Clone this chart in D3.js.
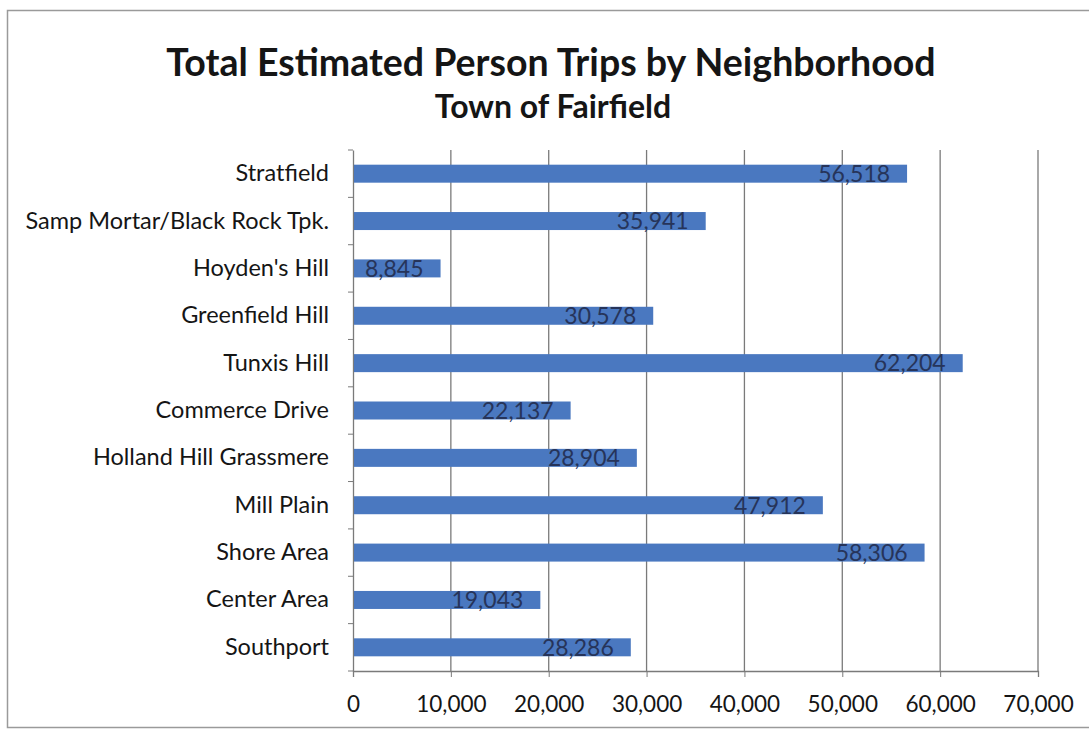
<!DOCTYPE html>
<html><head><meta charset="utf-8">
<script src="https://cdn.jsdelivr.net/npm/d3@7"></script>
<style>body{margin:0;background:#fff}svg{display:block}</style>
</head><body>
<svg id="c" width="1089" height="732"></svg>
<script>
const categories = ["Stratfield","Samp Mortar/Black Rock Tpk.","Hoyden's Hill","Greenfield Hill","Tunxis Hill","Commerce Drive","Holland Hill Grassmere","Mill Plain","Shore Area","Center Area","Southport"];
const values = [56518,35941,8845,30578,62204,22137,28904,47912,58306,19043,28286];
const xTicks = [0,10000,20000,30000,40000,50000,60000,70000];
const title = "Total Estimated Person Trips by Neighborhood";
const subtitle = "Town of Fairfield";

const svg = d3.select("#c");
const font = "Lato, 'Open Sans', sans-serif";
const m = {left:353, right:1038, top:150, bottom:671};

// outer border
svg.append("rect").attr("x",7.5).attr("y",10.5).attr("width",1095).attr("height",717)
  .attr("fill","none").attr("stroke","#9a9a9a").attr("stroke-width",1.5);

svg.append("text").attr("x",551).attr("y",76).attr("text-anchor","middle")
  .attr("font-family",font).attr("font-weight","bold").attr("font-size",37.5)
  .attr("fill","#151515").text(title);
svg.append("text").attr("x",553).attr("y",118).attr("text-anchor","middle")
  .attr("font-family",font).attr("font-weight","bold").attr("font-size",32)
  .attr("fill","#151515").text(subtitle);

const x = d3.scaleLinear().domain([0,70000]).range([m.left,m.right]);
const y = d3.scaleBand().domain(categories).range([m.top,m.bottom]).paddingInner(0.62).paddingOuter(0.31);

// gridlines
svg.append("g").selectAll("line").data(xTicks.slice(1)).join("line")
  .attr("x1",d=>x(d)).attr("x2",d=>x(d)).attr("y1",m.top).attr("y2",m.bottom)
  .attr("stroke","#7a7a7a").attr("stroke-width",1.3);

// x axis
const xa = svg.append("g").attr("transform",`translate(0,${m.bottom})`)
  .call(d3.axisBottom(x).tickValues(xTicks).tickFormat(d3.format(",")).tickSize(6).tickPadding(19));
xa.select(".domain").attr("stroke","#7a7a7a").attr("stroke-width",1.3);
xa.selectAll(".tick line").attr("stroke","#7a7a7a");
xa.selectAll("text").attr("font-family",font).attr("font-size",22.5).attr("fill","#151515");

// y axis
const ya = svg.append("g").attr("transform",`translate(${m.left},0)`)
  .call(d3.axisLeft(y).tickSize(0).tickPadding(24));
ya.select(".domain").attr("stroke","#7a7a7a").attr("stroke-width",1.3);
ya.selectAll("text").attr("font-family",font).attr("font-size",23.5).attr("fill","#151515");
svg.append("g").selectAll("line").data(d3.range(categories.length+1)).join("line")
  .attr("x1",m.left-5).attr("x2",m.left).attr("y1",i=>m.top+i*(m.bottom-m.top)/categories.length)
  .attr("y2",i=>m.top+i*(m.bottom-m.top)/categories.length).attr("stroke","#7a7a7a");

// bars
svg.append("g").selectAll("rect").data(values).join("rect")
  .attr("x",x(0)+1).attr("y",(d,i)=>y(categories[i]))
  .attr("width",d=>x(d)-x(0)).attr("height",y.bandwidth())
  .attr("fill","#4a78c0");

// labels
svg.append("g").selectAll("text").data(values).join("text")
  .attr("x",d=>x(d)-16).attr("y",(d,i)=>y(categories[i])+y.bandwidth()/2)
  .attr("dy","0.36em").attr("text-anchor","end")
  .attr("font-family",font).attr("font-size",23).attr("fill","#26345a")
  .text(d=>d3.format(",")(d));
</script>
</body></html>
